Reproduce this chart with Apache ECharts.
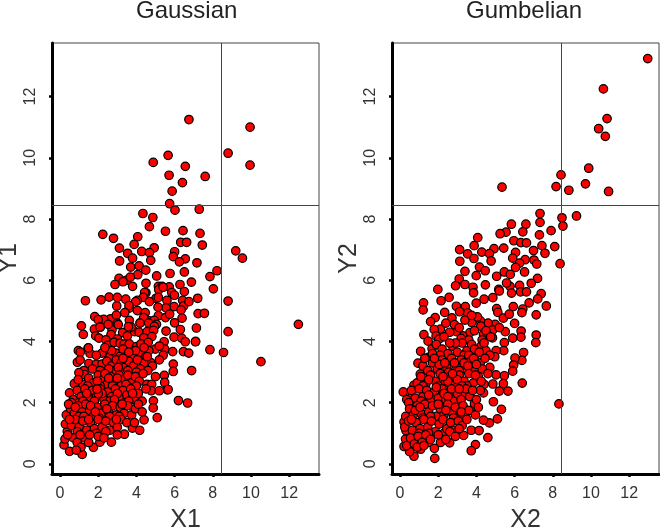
<!DOCTYPE html>
<html><head><meta charset="utf-8">
<script src="https://cdn.jsdelivr.net/npm/echarts@6/dist/echarts.min.js"></script>
<style>html,body{margin:0;padding:0;background:#fff}#c{width:660px;height:531px}</style>
</head><body><div id="c"></div>
<script>
const titles = ['Gaussian', 'Gumbelian'];
const xNames = ['X1', 'X2'];
const yNames = ['Y1', 'Y2'];
const tickValues = [0, 2, 4, 6, 8, 10, 12];
const threshold = 8.45;

const gaussianPoints = [
[6.75,11.25],[9.95,11.0],[8.8,10.15],[9.95,9.76],[4.88,9.85],[5.66,10.08],[6.56,9.72],[5.71,9.43],[7.6,9.39],[6.41,9.19],[5.87,8.91],[5.74,8.5],
[6.02,8.29],[7.29,8.32],[4.34,8.18],[4.86,8.05],[2.24,7.5],[4.68,7.75],[5.52,7.6],[6.44,7.62],[7.33,7.53],
[2.8,7.37],[4.07,7.42],[3.88,7.17],[3.11,7.05],[4.93,7.06],[6.32,7.24],[6.63,7.24],[7.45,7.15],
[4.28,6.94],[4.68,6.9],[3.54,6.88],[6.0,6.93],[5.93,6.77],[3.8,6.72],[3.12,6.63],[4.75,6.65],[6.56,6.7],[6.25,6.6],[7.17,6.57],[9.2,6.96],[9.55,6.72],
[3.7,6.43],[4.14,6.47],[4.49,6.33],[8.22,6.31],[6.51,6.27],[5.76,6.22],[5.06,6.14],[7.85,6.12],[3.09,6.06],[3.47,6.0],[4.07,6.18],[3.68,6.1],
[2.88,5.86],[3.8,5.8],[3.3,5.95],[8.03,5.72],[5.15,5.8],[5.34,5.8],[5.72,5.78],[6.28,5.86],[6.51,5.63],[4.5,5.59],[5.17,5.69],[5.85,5.6],[5.99,5.51],[6.88,5.94],[4.43,5.6],[5.4,5.77],[4.5,5.9],
[7.21,5.41],[5.03,5.41],[4.36,5.44],[4.05,5.34],[3.44,5.38],[2.57,5.45],[2.15,5.36],[1.33,5.33],[5.15,5.44],[5.6,5.34],[6.42,5.34],[6.47,5.16],[6.75,5.3],[2.97,5.16],[5.97,5.14],[5.55,5.1],[5.13,5.12],[4.68,5.3],[3.63,5.09],[4.05,5.01],[6.34,5.03],[8.8,5.32],[3.0,5.44],[3.96,5.3],[3.61,5.17],
[7.23,4.91],[7.56,4.92],[1.82,4.81],[2.65,4.74],[2.95,4.86],[3.39,4.94],[5.15,4.84],[5.52,4.78],[5.74,4.89],[6.39,4.76],[3.0,4.6],[4.67,4.67],[4.46,4.94],[4.93,4.69],[4.2,4.61],[4.38,4.78],[3.63,4.69],[2.29,4.72],[2.0,4.71],[2.12,4.47],[5.05,4.56],[6.0,4.61],[6.3,4.39],
[1.12,4.51],[1.22,4.23],[1.8,4.4],[2.09,4.47],[2.72,4.38],[3.05,4.55],[4.19,4.6],[4.64,4.6],[4.94,4.49],[5.55,4.34],[7.14,4.44],[1.87,4.18],[2.04,4.11],[2.67,4.22],[3.28,4.29],[3.53,4.18],[3.91,4.32],[4.14,4.3],[4.56,4.32],[4.9,4.36],[5.97,4.14],[6.37,4.11],[2.4,4.05],[3.0,4.08],[4.39,4.12],[4.81,4.16],[8.8,4.32],[12.48,4.56],[7.1,4.0],[5.45,3.99],[3.73,4.47],[2.52,4.56],[3.58,4.48],
[6.56,3.99],[7.09,3.99],[7.85,3.73],[0.96,3.7],[1.06,3.65],[1.47,3.78],[1.57,3.61],[2.2,3.62],[2.5,3.87],[2.83,3.97],[3.14,3.94],[3.35,3.91],[3.63,3.92],[4.01,3.83],[4.24,3.92],[4.62,3.97],[4.99,3.75],[5.48,3.75],[5.9,3.67],[6.46,3.67],[6.74,3.62],[2.62,3.51],[2.93,3.62],[3.14,3.51],[3.49,3.56],[3.8,3.51],[4.19,3.64],[4.5,3.51],[8.56,3.64],[4.65,3.7],[1.49,3.79],[3.3,3.75],[3.95,3.7],[2.7,3.7],[2.35,3.8],[1.9,3.55],[3.6,3.65],[4.4,3.8],[5.2,3.85],[5.4,3.55],
[0.91,3.32],[4.75,3.31],[5.93,3.26],[5.93,3.02],[6.89,3.05],[10.52,3.34],[1.51,3.28],[1.89,3.25],[2.2,3.26],[4.38,3.29],[4.84,3.2],[4.57,3.5],[2.45,3.35],[2.7,3.2],[2.95,3.4],[3.2,3.3],[3.4,3.15],[3.6,3.35],[3.85,3.2],[4.05,3.4],[4.2,3.1],[2.85,3.05],[3.05,3.15],[3.3,3.45],[1.7,3.1],[1.25,3.05],[2.1,3.05],[2.55,3.1],[3.55,3.05],[4.0,3.0],[4.6,3.05],[5.2,3.4],[1.05,3.4],
[1.28,2.92],[0.99,2.98],[5.46,2.89],[5.48,2.66],[0.75,2.62],[1.5,2.8],[1.75,2.65],[2.0,2.9],[2.25,2.75],[2.45,2.6],[2.65,2.85],[2.9,2.7],[3.1,2.9],[3.35,2.75],[3.55,2.9],[3.75,2.65],[3.95,2.85],[4.15,2.7],[4.35,2.95],[4.55,2.6],[1.2,2.6],[1.45,2.55],[2.1,2.55],[2.75,2.55],[3.2,2.55],[3.65,2.5],[4.0,2.55],[2.35,2.95],[0.95,2.75],[1.95,2.7],[2.55,2.8],[3.0,2.8],[3.45,2.6],[5.0,2.85],[4.8,2.6],
[5.62,2.42],[4.78,2.39],[5.2,2.39],[6.2,2.07],[4.89,2.06],[0.5,2.32],[5.66,2.43],[0.7,2.1],[0.9,2.4],[1.1,2.2],[1.3,2.45],[1.5,2.15],[1.7,2.4],[1.9,2.2],[2.1,2.45],[2.3,2.1],[2.5,2.35],[2.7,2.2],[2.9,2.45],[3.1,2.15],[3.3,2.4],[3.5,2.25],[3.7,2.45],[3.9,2.1],[4.1,2.3],[4.3,2.05],[1.0,2.0],[1.4,2.3],[1.8,2.05],[2.2,2.3],[2.6,2.05],[3.0,2.3],[3.4,2.0],[3.8,2.3],[4.5,2.45],[0.6,2.0],[1.2,2.05],[2.0,2.3],[2.85,2.1],[3.6,2.05],[6.68,1.99],[1.94,2.44],
[0.33,1.6],[0.55,1.8],[0.75,1.65],[0.95,1.9],[1.15,1.7],[1.35,1.95],[1.55,1.75],[1.75,1.55],[1.95,1.85],[2.15,1.65],[2.35,1.95],[2.55,1.7],[2.75,1.9],[2.95,1.6],[3.15,1.85],[3.35,1.65],[3.55,1.9],[3.75,1.6],[3.95,1.8],[4.88,1.83],[5.09,1.51],[1.0,1.55],[1.6,1.9],[2.05,1.5],[2.6,1.55],[3.1,1.55],[0.45,1.95],[1.25,1.55],[1.85,1.7],[2.45,1.8],[3.25,1.95],[4.1,1.95],[4.3,1.7],[0.8,1.85],
[0.38,1.06],[0.28,1.3],[0.6,1.25],[0.8,1.45],[1.0,1.2],[1.2,1.4],[1.4,1.1],[1.6,1.35],[1.8,1.15],[2.0,1.45],[2.2,1.2],[2.4,1.4],[2.6,1.1],[2.8,1.35],[3.0,1.2],[3.2,1.45],[3.79,1.17],[4.17,1.1],[4.4,1.44],[0.5,1.45],[1.5,1.45],[2.95,1.45],[0.9,1.05],[1.9,1.0],[2.4,1.05],[3.5,1.35],[3.9,1.35],
[0.21,0.62],[0.5,0.41],[1.16,0.31],[1.75,0.54],[2.69,0.71],[3.37,0.97],[0.26,0.81],[0.7,0.85],[0.9,0.7],[1.1,0.55],[1.3,0.85],[1.5,0.7],[2.09,0.71],[2.0,0.9],[0.85,0.45],[1.05,0.95],[1.55,0.95],[2.3,0.85],[3.0,0.95],[0.4,0.95]
];

const gumbelianPoints = [
[12.97,13.24],[10.65,12.25],[10.84,11.28],[10.4,10.95],[10.75,10.7],[9.88,9.66],[8.43,9.44],[9.71,9.15],[8.17,9.06],[8.84,8.94],[10.92,8.9],[5.34,9.04],
[9.24,8.1],[7.33,8.18],[8.48,8.04],[8.53,7.77],[7.91,7.62],[7.33,7.89],[6.59,7.83],[5.83,7.83],[5.55,7.57],[5.24,7.52],[6.43,7.58],[7.3,7.48],
[4.07,7.39],[3.88,7.13],[3.12,7.0],[4.92,7.03],[5.43,7.05],[5.96,7.29],[6.33,7.23],[6.62,7.22],[7.43,7.13],[8.1,7.1],[6.99,6.97],[7.59,6.88],[6.05,6.91],[4.28,6.92],[4.68,6.87],[3.54,6.86],[3.87,6.71],[4.77,6.63],[3.13,6.62],[5.9,6.72],[7.01,6.66],[6.55,6.67],[6.26,6.56],[7.16,6.53],[8.38,6.54],
[4.16,6.43],[3.4,6.29],[4.46,6.31],[5.46,6.27],[6.05,6.42],[5.77,6.19],[6.52,6.27],[5.06,6.13],[3.99,6.15],[3.1,6.04],[7.2,6.06],
[3.4,5.86],[2.91,5.82],[3.82,5.77],[1.98,5.7],[4.47,5.85],[5.17,5.7],[5.76,5.8],[6.87,5.9],[6.26,5.83],[5.58,5.91],[3.85,5.59],[4.86,5.43],[4.4,5.38],[5.2,5.65],[5.84,5.58],[6.31,5.62],[6.62,5.62],[7.39,5.56],[7.21,5.39],[6.76,5.26],[7.66,5.16],
[1.23,5.26],[1.21,5.03],[2.15,5.33],[2.57,5.44],[2.95,5.15],[3.42,5.14],[3.54,4.93],[3.12,4.97],[2.34,4.95],[1.84,4.78],[2.72,4.77],[3.99,5.25],[5.06,5.07],[5.12,4.95],[5.93,5.14],[5.41,4.76],[5.72,4.89],[6.43,5.06],[6.38,4.94],[7.13,4.87],
[6.0,4.59],[6.34,4.34],[6.33,4.14],[7.13,4.21],[7.11,3.96],[5.9,4.11],[5.51,4.32],[4.98,4.56],[4.61,4.6],[4.21,4.67],[3.76,4.62],[4.23,4.5],[4.86,4.38],[4.84,4.12],[4.37,4.23],[3.66,4.29],[3.29,4.18],[2.95,4.32],[2.12,4.4],[1.79,4.39],[1.25,4.22],[1.89,4.18],[2.03,4.07],[1.47,4.01],
[2.4,4.6],[2.6,4.3],[2.85,4.55],[3.1,4.45],[3.4,4.7],[3.6,4.05],[3.9,4.35],[4.05,4.8],[4.3,4.05],[4.5,4.35],[4.75,4.15],[2.3,4.15],[3.2,4.1],[1.6,4.65],[5.2,4.45],[3.75,4.85],
[6.47,3.64],[6.38,3.38],[6.02,3.46],[5.46,3.96],[5.43,3.7],[5.03,3.7],[4.96,3.5],[5.95,3.23],[5.9,3.03],[5.46,2.88],[5.03,2.91],[5.41,2.62],[5.65,2.38],[5.2,2.38],[4.86,2.61],[4.89,2.03],[5.31,1.78],[5.1,1.47],[4.68,1.34],[4.37,1.43],[4.6,0.86],[3.95,0.63],[3.73,0.43],[3.33,0.93],[6.4,2.64],[8.32,1.96],
[3.73,1.1],[4.14,1.09],[3.85,1.71],[3.4,1.58],[3.9,1.97],[4.37,2.32],[3.4,2.24],
[1.82,0.18],[0.73,0.25],[0.5,0.4],[0.21,0.57],[0.29,0.81],[0.31,1.09],[0.21,1.37],[0.17,2.35],[0.61,2.19],[0.57,1.97],[0.94,3.29],[1.08,3.68],[1.06,2.93],[0.73,2.57],[1.49,3.48],[1.68,3.76],[2.38,3.52],[2.62,3.35],[2.27,0.99],[2.6,0.69],[2.12,0.7],[1.49,0.7],[1.08,0.48],[1.8,0.51],
[1.9,3.9],[2.2,3.75],[2.5,3.6],[2.75,3.85],[3.0,3.65],[3.25,3.95],[3.5,3.7],[3.75,3.9],[4.0,3.6],[4.25,3.85],[4.5,3.7],[2.1,3.55],[2.9,3.95],[3.35,3.55],[3.9,3.75],[4.4,3.95],[4.7,3.55],[1.7,3.6],[2.6,3.95],[3.6,3.55],[4.15,3.65],
[1.2,3.2],[1.45,3.05],[1.7,3.3],[1.95,3.1],[2.2,3.4],[2.45,3.15],[2.7,3.45],[2.95,3.2],[3.2,3.4],[3.45,3.1],[3.7,3.35],[3.95,3.05],[4.2,3.3],[4.45,3.45],[4.7,3.15],[2.05,3.25],[2.55,3.0],[2.85,3.3],[3.1,3.05],[3.35,3.3],[3.85,3.45],[4.3,3.1],[1.8,3.45],[2.35,3.3],[3.55,3.2],[4.0,3.25],[1.3,3.45],
[0.9,2.65],[1.1,2.85],[1.35,2.6],[1.6,2.9],[1.85,2.7],[2.1,2.95],[2.35,2.65],[2.6,2.85],[2.85,2.6],[3.1,2.9],[3.35,2.7],[3.6,2.95],[3.85,2.65],[4.1,2.85],[4.4,2.6],[4.6,2.95],[1.5,2.75],[2.0,2.55],[2.5,2.7],[3.0,2.75],[3.5,2.55],[3.95,2.9],[2.25,2.85],[2.75,2.95],[3.25,2.55],[1.2,2.55],[4.25,2.7],
[0.35,2.1],[0.6,2.4],[0.8,2.15],[1.0,2.45],[1.2,2.2],[1.4,2.4],[1.6,2.05],[1.8,2.35],[2.0,2.15],[2.2,2.45],[2.4,2.1],[2.6,2.35],[2.8,2.05],[3.0,2.3],[3.2,2.1],[3.45,2.45],[3.65,2.2],[4.0,2.1],[4.2,2.4],[1.1,2.05],[1.5,2.25],[1.9,2.5],[2.3,2.3],[2.7,2.45],[3.1,2.45],[0.45,2.0],[2.5,2.2],[3.8,2.4],
[0.3,1.55],[0.5,1.8],[0.7,1.6],[0.9,1.9],[1.1,1.65],[1.3,1.95],[1.5,1.7],[1.7,1.9],[1.9,1.55],[2.1,1.8],[2.3,1.6],[2.5,1.95],[2.7,1.7],[2.9,1.85],[3.1,1.55],[3.3,1.9],[3.6,1.75],[3.95,1.6],[4.1,1.85],[0.8,1.75],[1.2,1.5],[1.6,1.55],[2.0,1.95],[2.4,1.75],[2.8,1.5],[3.2,1.7],[1.05,1.85],
[0.25,1.2],[0.45,1.4],[0.65,1.1],[0.85,1.35],[1.05,1.15],[1.25,1.45],[1.45,1.2],[1.65,1.4],[1.85,1.05],[2.05,1.3],[2.25,1.45],[2.45,1.15],[2.65,1.35],[2.85,1.1],[3.05,1.4],[3.25,1.25],[3.5,1.45],[0.6,1.45],[1.0,1.0],[1.5,1.0],[2.6,1.05],[3.1,1.15],
[0.35,0.6],[0.55,0.85],[0.75,0.65],[0.95,0.9],[1.15,0.7],[1.35,0.95],[1.6,0.8],[2.0,0.95],[2.4,0.8],[2.9,0.9],[0.9,0.55],[1.25,0.6]
];

const FONT = '"Liberation Sans", Arial, Helvetica, sans-serif';
const gridLefts = [52, 392];
const titleLefts = [136, 466];
const datasets = [gaussianPoints, gumbelianPoints];

const chart = echarts.init(document.getElementById('c'), null, {renderer: 'canvas'});

const option = {
  animation: false,
  backgroundColor: '#fff',
  title: titles.map((t, i) => ({
    text: t, left: titleLefts[i], top: -1, padding: 0,
    textStyle: {fontSize: 24, fontWeight: 'normal', color: '#222', fontFamily: FONT}
  })),
  grid: gridLefts.map(l => ({left: l, top: 43, width: 267, height: 431, show: true, borderColor: '#444', borderWidth: 1, containLabel: false, outerBoundsMode: 'none'})),
  xAxis: [0, 1].map(i => ({
    gridIndex: i, type: 'value', min: -0.42, max: 13.56,
    name: xNames[i], nameLocation: 'middle', nameGap: 34,
    nameTextStyle: {fontSize: 25, color: '#333', fontFamily: FONT},
    axisLine: {show: true, onZero: false, lineStyle: {color: '#000', width: 3}},
    axisTick: {show: true, length: 3, customValues: tickValues, lineStyle: {color: '#000', width: 2.5}},
    axisLabel: {fontSize: 16, color: '#333', margin: 12, customValues: tickValues, fontFamily: FONT},
    splitLine: {show: false}
  })),
  yAxis: [0, 1].map(i => ({
    gridIndex: i, type: 'value', min: -0.33, max: 13.75,
    name: yNames[i], nameLocation: 'middle', nameGap: 29,
    nameTextStyle: {fontSize: 25, color: '#333', fontFamily: FONT},
    axisLine: {show: true, onZero: false, lineStyle: {color: '#000', width: 3}},
    axisTick: {show: true, length: 3, customValues: tickValues, lineStyle: {color: '#000', width: 2.5}},
    axisLabel: {rotate: 90, fontSize: 16, color: '#333', margin: 13, customValues: tickValues, fontFamily: FONT},
    splitLine: {show: false}
  })),
  series: datasets.map((d, i) => ({
    type: 'scatter', xAxisIndex: i, yAxisIndex: i, data: d,
    symbol: 'circle', symbolSize: 8.5,
    itemStyle: {color: '#f00', borderColor: '#000', borderWidth: 1.2, opacity: 1},
    markLine: {
      silent: true, symbol: 'none', label: {show: false},
      lineStyle: {color: '#444', width: 1, type: 'solid'},
      data: [{xAxis: threshold}, {yAxis: threshold}]
    }
  }))
};
chart.setOption(option);
</script>
</body></html>
